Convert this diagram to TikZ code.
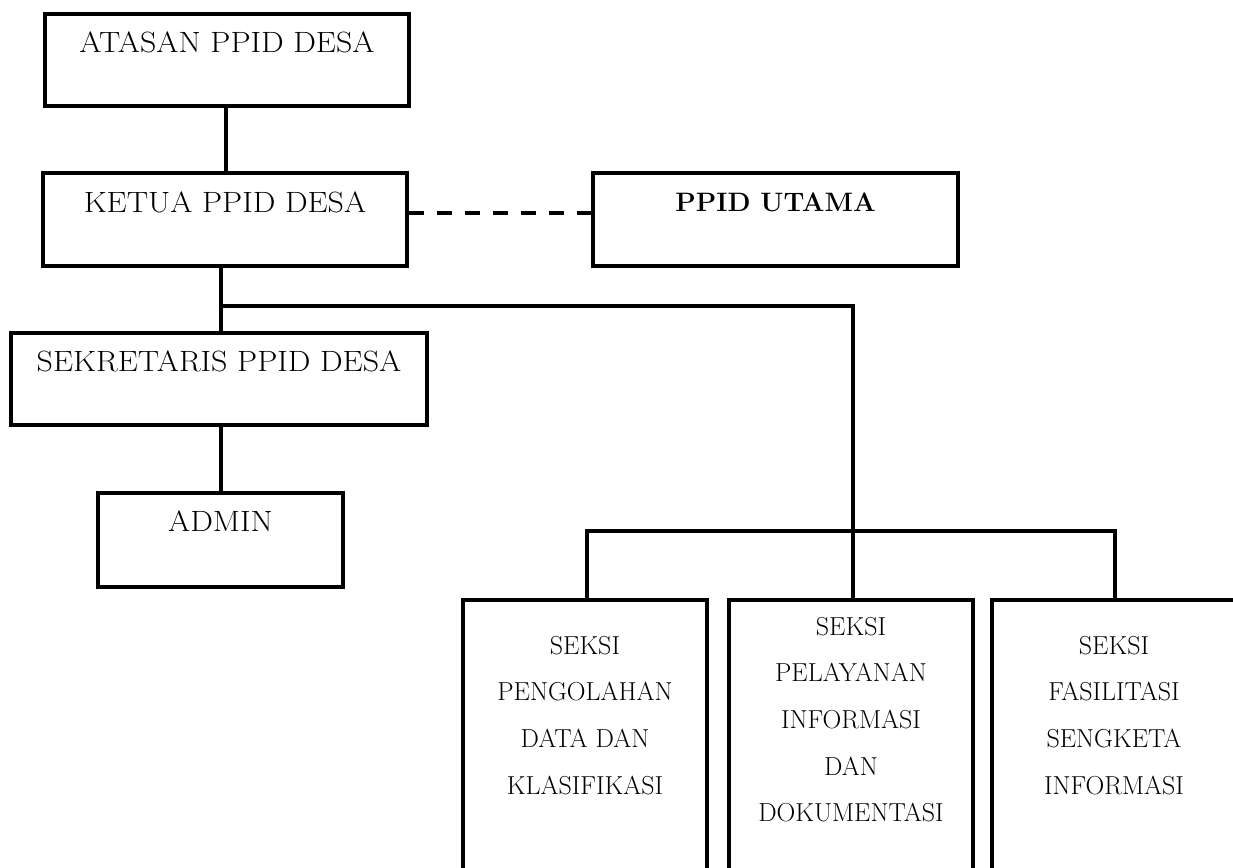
\documentclass[tikz,border=0pt]{standalone}
\usetikzlibrary{calc,fit}
\newcommand\widetxt[1]{\scalebox{1.09}[1]{#1}}
\begin{document}
\begin{tikzpicture}[x=0.75pt,y=-0.75pt,
  box/.style={draw=black,line width=3pt,inner sep=0pt},
  conn/.style={draw=black,line width=2.6pt},
  dashconn/.style={draw=black,line width=3pt,dash pattern=on 11.25pt off 9.75pt},
  toptext/.style={inner sep=0pt,anchor=base,font=\fontsize{22pt}{26pt}\selectfont},
  boldtext/.style={inner sep=0pt,anchor=base,font=\fontsize{20pt}{24pt}\selectfont\bfseries},
  sectext/.style={inner sep=0pt,anchor=north,align=center,font=\fontsize{19.5pt}{34.9pt}\selectfont}]
\useasboundingbox (0,0) rectangle (1233,868);
\clip (0,0) rectangle (1233,868);
\fill[white] (0,0) rectangle (1233,868);

% boxes
\node[box,fit={(45,14) (409,106)}] (atasan) {};
\node[box,fit={(43,173) (407,266)}] (ketua) {};
\node[box,fit={(593,173) (958,266)}] (ppid) {};
\node[box,fit={(11,333) (427,425)}] (sekretaris) {};
\node[box,fit={(98,493) (343,587)}] (admin) {};
\node[box,fit={(463,600) (707,890)}] (seksiA) {};
\node[box,fit={(729,600) (973,890)}] (seksiB) {};
\node[box,fit={(992,600) (1236,890)}] (seksiC) {};

% texts
\node[toptext] (atasanT) at ($(atasan.north)+(0,40)$) {\widetxt{ATASAN PPID DESA}};
\node[toptext] (ketuaT) at ($(ketua.north)+(0,41)$) {\widetxt{KETUA PPID DESA}};
\node[boldtext] (ppidT) at ($(ppid.north)+(0,40)$) {PPID UTAMA};
\node[toptext] (sekretarisT) at ($(sekretaris.north)+(0,40)$) {\widetxt{SEKRETARIS PPID DESA}};
\node[toptext] (adminT) at ($(admin.north)+(0,40)$) {\widetxt{ADMIN}};
\node[sectext] (seksiAT) at ($(seksiA.north)+(0,38)$) {SEKSI\\PENGOLAHAN\\DATA DAN\\KLASIFIKASI};
\node[sectext] (seksiBT) at ($(seksiB.north)+(0,19)$) {SEKSI\\PELAYANAN\\INFORMASI\\DAN\\DOKUMENTASI};
\node[sectext] (seksiCT) at ($(seksiC.north)+(0,38)$) {SEKSI\\FASILITASI\\SENGKETA\\INFORMASI};

% junctions
\coordinate (jA) at (221,306);
\coordinate (jB) at (853,306);
\coordinate (jC) at (853,531);
\coordinate (dashY) at (0,213);

% connectors
\draw[conn] (atasan.south -| 226,0) -- (ketua.north -| 226,0);
\draw[conn] (ketua.south -| jA) -- (jA) -- (sekretaris.north -| jA);
\draw[conn] (jA) -- (jB) -- (seksiB.north -| jB);
\draw[conn] (sekretaris.south -| jA) -- (admin.north -| jA);
\draw[conn] (seksiA.north -| 587,0) |- (jC) -| (seksiC.north -| 1115,0);
\draw[dashconn] (ketua.east |- dashY) -- (ppid.west |- dashY);
\end{tikzpicture}
\end{document}
